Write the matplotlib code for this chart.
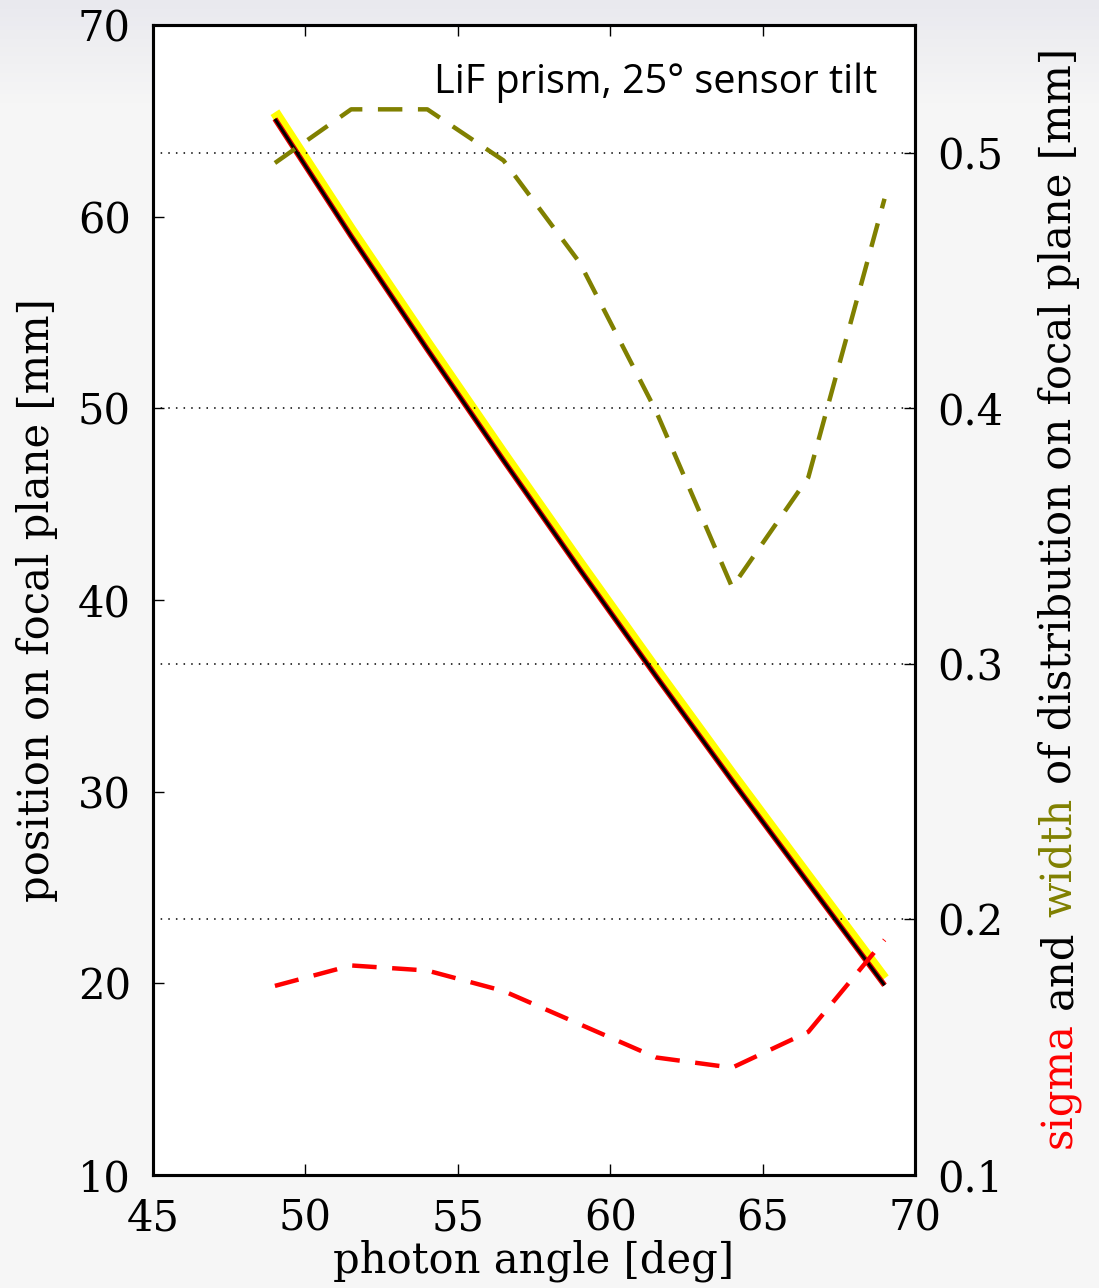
import matplotlib
matplotlib.use("Agg")
import matplotlib.pyplot as plt
import numpy as np

# photon angle sampling [deg]
angle = [49.0, 51.5, 54.0, 56.5, 59.0, 61.5, 64.0, 66.5, 69.0]
# mean position on focal plane [mm] (fit and simulation)
position = [65.1, 58.98, 53.07, 47.28, 41.6, 36.03, 30.57, 25.23, 19.9]
position_sim = [65.45, 59.33, 53.42, 47.63, 41.95, 36.38, 30.92, 25.58, 20.25]
# sigma and width of the distribution [mm]
sigma = [0.174, 0.182, 0.180, 0.172, 0.159, 0.146, 0.142, 0.156, 0.192]
width = [0.496, 0.517, 0.517, 0.497, 0.457, 0.399, 0.330, 0.373, 0.482]

x_ticks = [45, 50, 55, 60, 65, 70]
y_ticks = [10, 20, 30, 40, 50, 60, 70]
y2_ticks = [0.1, 0.2, 0.3, 0.4, 0.5]

OLIVE = "#808000"
SERIF = "DejaVu Serif"
FS = 30

fig = plt.figure(figsize=(10.99, 12.88), dpi=100, facecolor="#f6f6f6")

# soft gray background gradient
bg = fig.add_axes([0, 0, 1, 1], zorder=-10)
grad = np.linspace(0, 1, 300)[:, None]
shade = np.clip(grad / 0.08, 0, 1)
top = np.array([0.915, 0.915, 0.935])
bot = np.array([0.965, 0.965, 0.965])
img = (top[None, None, :] * (1 - shade[..., None]) + bot[None, None, :] * shade[..., None])
bg.imshow(np.repeat(img, 2, axis=1), aspect="auto", extent=(0, 1, 0, 1), origin="upper")
bg.set_axis_off()

ax = fig.add_axes([153 / 1099, 113 / 1288, 762 / 1099, 1150 / 1288])
ax.set_facecolor("white")
ax.plot(angle, position_sim, color="#ffff00", lw=7.5, solid_capstyle="butt", zorder=2)
ax.plot(angle, position, color="#e00000", lw=4.0, solid_capstyle="butt", zorder=3)
ax.plot(angle, position, color="black", lw=2.2, solid_capstyle="butt", zorder=4)
ax.set_xlim(45, 70)
ax.set_ylim(10, 70)
ax.set_xticks(x_ticks)
ax.set_yticks(y_ticks)
ax.tick_params(direction="in", length=8, width=1, top=True, right=False,
               labelsize=FS, pad=16, colors="black")
for lab in ax.get_xticklabels() + ax.get_yticklabels():
    lab.set_family(SERIF)
ax.set_xlabel("photon angle [deg]", fontsize=FS, family=SERIF, labelpad=0)
ax.set_ylabel("position on focal plane [mm]", fontsize=FS, family=SERIF, labelpad=14)
for sp in ax.spines.values():
    sp.set_linewidth(2.2)

ax2 = ax.twinx()
ax2.plot(angle, width, color=OLIVE, lw=3.2, dashes=(5.5, 3.5))
ax2.plot(angle, sigma, color="#ff0000", lw=3.2, dashes=(5.5, 3.5))
ax2.set_ylim(0.1, 0.55)
ax2.set_yticks(y2_ticks)
ax2.set_yticklabels([f"{v:.1f}" for v in y2_ticks])
ax2.grid(axis="y", color="black", lw=1.1, linestyle=(0, (1, 4)))
ax2.tick_params(direction="in", length=8, width=1, labelsize=FS, pad=16)
for lab in ax2.get_yticklabels():
    lab.set_family(SERIF)
for sp in ax2.spines.values():
    sp.set_linewidth(2.2)

ax.text(0.950, 0.9409, "LiF prism, 25° sensor tilt", transform=ax.transAxes,
        ha="right", va="baseline", fontsize=28.5, family="Open Sans")

# multicoloured right-hand label
pieces = [("sigma", "#ff0000"), (" and ", "black"), ("width", OLIVE),
          (" of distribution on focal plane [mm]", "black")]
fig.canvas.draw()
renderer = fig.canvas.get_renderer()


def text_len(s):
    t = fig.text(0, 0, s.strip(), fontsize=FS, family=SERIF)
    w = t.get_window_extent(renderer).width
    t.remove()
    return w


full = "".join(p for p, _ in pieces)
total = text_len(full)
x_px = 1071
y_center = 1288 - 598
y0 = y_center - total / 2
prefix = ""
for s, col in pieces:
    prefix += s
    word = s.strip()
    end = text_len(prefix)
    start = end - text_len(word)
    fig.text(x_px / 1099, (y0 + start) / 1288, word, color=col, fontsize=FS,
             family=SERIF, rotation=90, rotation_mode="anchor",
             ha="left", va="baseline")

fig.savefig("out.png", dpi=100, facecolor=fig.get_facecolor())
